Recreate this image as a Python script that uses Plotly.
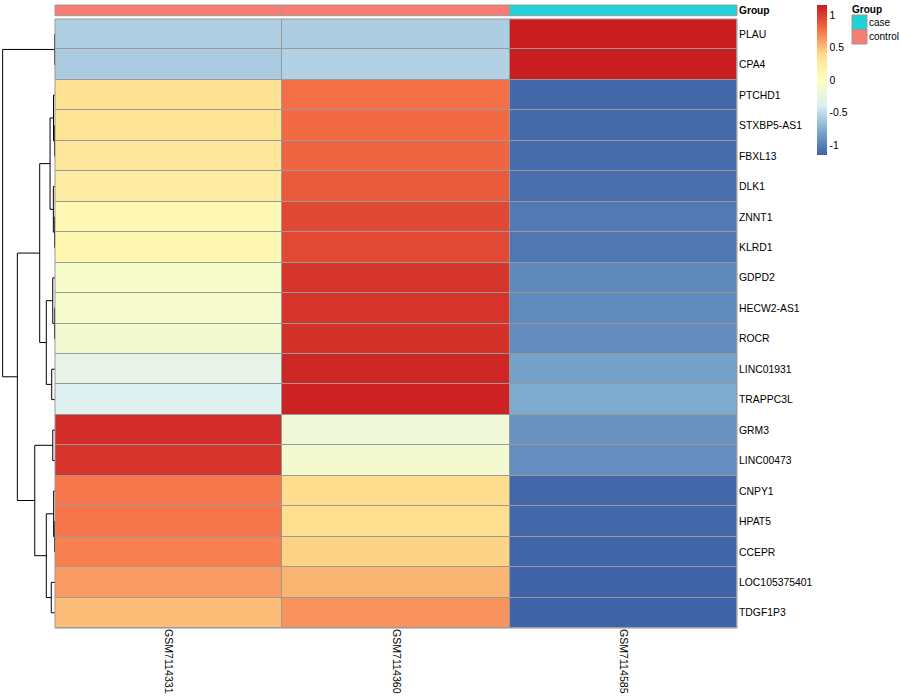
import plotly.graph_objects as go

# ---------------- data ----------------
samples = ["GSM7114331", "GSM7114360", "GSM7114585"]
groups = ["control", "control", "case"]
genes = ["PLAU", "CPA4", "PTCHD1", "STXBP5-AS1", "FBXL13", "DLK1", "ZNNT1", "KLRD1",
         "GDPD2", "HECW2-AS1", "ROCR", "LINC01931", "TRAPPC3L", "GRM3", "LINC00473",
         "CNPY1", "HPAT5", "CCEPR", "LOC105375401", "TDGF1P3"]

# row-scaled expression (z-scores)
z_GSM7114331 = [-0.57, -0.59, 0.35, 0.32, 0.28, 0.22, 0.08, 0.10, -0.08, -0.10,
                -0.12, -0.28, -0.35, 1.08, 1.05, 0.75, 0.76, 0.72, 0.62, 0.50]
z_GSM7114360 = [-0.58, -0.56, 0.78, 0.80, 0.83, 0.87, 0.96, 0.95, 1.04, 1.05,
                1.06, 1.11, 1.13, -0.18, -0.12, 0.38, 0.37, 0.42, 0.53, 0.65]
z_GSM7114585 = [1.15, 1.15, -1.13, -1.12, -1.11, -1.09, -1.04, -1.05, -0.96, -0.95,
                -0.94, -0.83, -0.78, -0.90, -0.93, -1.13, -1.13, -1.14, -1.15, -1.15]

# row dendrogram (merge list: left id, right id, height); ids >= 20 are earlier merges
merge_left = [0, 3, 2, 6, 5, 22, 9, 8, 11, 27, 25, 13, 16, 15, 18, 33, 31, 30, 20]
merge_right = [1, 4, 21, 7, 23, 24, 10, 26, 12, 28, 29, 14, 17, 32, 19, 34, 35, 36, 37]
merge_height = [0.02, 0.03, 0.10, 0.03, 0.11, 0.33, 0.03, 0.15, 0.22, 0.58, 1.02,
                0.15, 0.03, 0.09, 0.25, 0.58, 1.35, 2.51, 3.49]

group_levels = ["case", "control"]
group_colors = ["#1ED2D8", "#F87C72"]

# ---------------- helpers ----------------
W, H = 900, 700
def px(x):
    return x / W
def py(y):
    return 1 - y / H

FONT = "Liberation Sans, Arial, Helvetica, sans-serif"
GRID = "#999999"

z = [[a, b, c] for a, b, c in zip(z_GSM7114331, z_GSM7114360, z_GSM7114585)]
zmax = 1.155

colorscale = [
    [0.0, "rgb(62,99,166)"],
    [1 / 6, "rgb(128,172,208)"],
    [2 / 6, "rgb(220,239,245)"],
    [0.5, "rgb(255,255,191)"],
    [4 / 6, "rgb(254,222,141)"],
    [5 / 6, "rgb(246,113,71)"],
    [1.0, "rgb(201,28,32)"],
]

fig = go.Figure()

# main heatmap
fig.add_trace(go.Heatmap(
    z=z, x=list(range(len(samples))), y=list(range(len(genes))),
    colorscale=colorscale, zmin=-zmax, zmax=zmax, xgap=1, ygap=1,
    xaxis="x", yaxis="y", hoverinfo="skip",
    colorbar=dict(
        x=px(817), xanchor="left", xpad=0,
        y=py(5), yanchor="top", ypad=0,
        len=150, lenmode="pixels", thickness=10, thicknessmode="pixels",
        outlinewidth=0, ticks="", tickvals=[-1, -0.5, 0, 0.5, 1],
        ticktext=["-1", "-0.5", "0", "0.5", "1"],
        tickfont=dict(size=10.4, family=FONT, color="black"),
    ),
))

# annotation bar
gz = [[group_levels.index(g) for g in groups]]
fig.add_trace(go.Heatmap(
    z=gz, x=list(range(len(samples))), y=[0],
    colorscale=[[0, group_colors[0]], [0.5, group_colors[0]], [0.5, group_colors[1]], [1, group_colors[1]]],
    zmin=0, zmax=1, showscale=False, xgap=1, ygap=1,
    xaxis="x", yaxis="y2", hoverinfo="skip",
))

# dendrogram
n = len(genes)
pos = {i: float(i) for i in range(n)}
hgt = {i: 0.0 for i in range(n)}
dx, dy = [], []
for k, (a, b, h) in enumerate(zip(merge_left, merge_right, merge_height)):
    dx += [hgt[a], h, h, hgt[b], None]
    dy += [pos[a], pos[a], pos[b], pos[b], None]
    pos[n + k] = (pos[a] + pos[b]) / 2
    hgt[n + k] = h
fig.add_trace(go.Scatter(
    x=dx, y=dy, mode="lines", line=dict(color="black", width=1),
    xaxis="x2", yaxis="y3", hoverinfo="skip", showlegend=False,
))

hm_x = [px(55), px(737)]
hm_y = [py(628), py(19)]
ann_y = [py(15.7), py(5)]

fig.update_layout(
    width=W, height=H, margin=dict(l=0, r=0, t=0, b=0),
    paper_bgcolor="white", plot_bgcolor="white",
    font=dict(family=FONT, size=10, color="black"),
    showlegend=False,
    xaxis=dict(domain=hm_x, range=[-0.5, len(samples) - 0.5], tickvals=list(range(len(samples))),
               ticktext=samples, tickangle=90, ticks="", showgrid=False, zeroline=False,
               showline=False, anchor="y", tickfont=dict(size=10.6)),
    yaxis=dict(domain=hm_y, range=[n - 0.5, -0.5], tickvals=list(range(n)), ticktext=genes,
               side="right", ticks="", showgrid=False, zeroline=False, showline=False,
               anchor="x", tickfont=dict(size=10.4), ticklabelstandoff=1),
    yaxis2=dict(domain=ann_y, range=[0.5, -0.5], tickvals=[0], ticktext=["<b>Group</b>"],
                side="right", ticks="", showgrid=False, zeroline=False, showline=False,
                anchor="x", tickfont=dict(size=10.2), ticklabelstandoff=1),
    xaxis2=dict(domain=[0, px(55)], range=[55 / 15, 0], visible=False, anchor="y3"),
    yaxis3=dict(domain=hm_y, range=[n - 0.5, -0.5], visible=False, anchor="x2"),
)

shapes = [
    dict(type="rect", xref="x domain", yref="y domain", x0=0, x1=1, y0=0, y1=1,
         fillcolor=GRID, line=dict(width=0), layer="below"),
    dict(type="rect", xref="x domain", yref="y domain", x0=0, x1=1, y0=0, y1=1,
         fillcolor="rgba(0,0,0,0)", line=dict(width=1, color=GRID), layer="above"),
    dict(type="rect", xref="x domain", yref="y2 domain", x0=0, x1=1, y0=0, y1=1,
         fillcolor=GRID, line=dict(width=0), layer="below"),
    dict(type="rect", xref="x domain", yref="y2 domain", x0=0, x1=1, y0=0, y1=1,
         fillcolor="rgba(0,0,0,0)", line=dict(width=1, color=GRID), layer="above"),
]
# legend for Group
annotations = [dict(x=px(851), y=py(10), xref="paper", yref="paper", text="<b>Group</b>",
                    showarrow=False, xanchor="left", yanchor="middle", font=dict(size=10),
                    borderpad=0)]
for i, (lvl, col) in enumerate(zip(group_levels, group_colors)):
    top = 15 + i * 14.5
    shapes.append(dict(type="rect", xref="paper", yref="paper", x0=px(852), x1=px(867),
                       y0=py(top + 14.5), y1=py(top), fillcolor=col,
                       line=dict(width=1, color=GRID)))
    annotations.append(dict(x=px(868), y=py(top + 7.25), xref="paper", yref="paper", text=lvl,
                            showarrow=False, xanchor="left", yanchor="middle", font=dict(size=10),
                            borderpad=0))
fig.update_layout(shapes=shapes, annotations=annotations)

fig.write_html("out.html", config={"displayModeBar": False},
               post_script="document.body.style.margin='0';")
